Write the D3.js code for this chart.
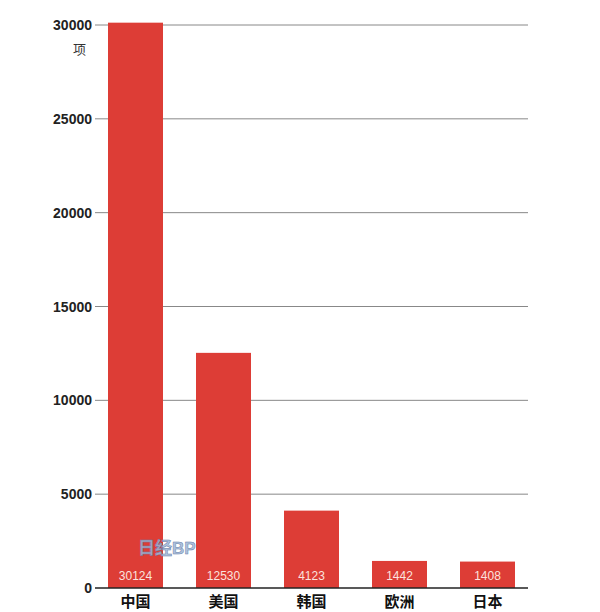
<!DOCTYPE html>
<html><head><meta charset="utf-8">
<script src="https://cdn.jsdelivr.net/npm/d3@7"></script>
<style>body{margin:0;background:#fff;}</style>
</head><body>
<svg id="chart" width="600" height="612"></svg>
<script>
const categories = ['中国', '美国', '韩国', '欧洲', '日本'];
const values = [30124, 12530, 4123, 1442, 1408];
const yTicks = [0, 5000, 10000, 15000, 20000, 25000, 30000];

const svg = d3.select('#chart');
const font = '"Liberation Sans", "Noto Sans CJK SC", sans-serif';
const y = d3.scaleLinear().domain([0, 30000]).range([588, 25]);
const x = d3.scaleBand().domain(categories).range([108, 515]).paddingInner(0.375).paddingOuter(0);

// gridlines
svg.append('g').selectAll('line').data(yTicks.filter(d => d > 0)).join('line')
    .attr('x1', 95).attr('x2', 528)
    .attr('y1', d => y(d)).attr('y2', d => y(d))
    .attr('stroke', '#888').attr('stroke-width', 1);

svg.append('g').selectAll('text').data(yTicks).join('text')
    .attr('x', 92).attr('y', d => y(d) + 5)
    .attr('text-anchor', 'end')
    .attr('font-family', font).attr('font-weight', 'bold').attr('font-size', 14)
    .attr('fill', '#222')
    .text(d => d);

svg.append('text').attr('x', 86).attr('y', y(30000) + 29)
    .attr('text-anchor', 'end').attr('font-family', font).attr('font-size', 13)
    .attr('fill', '#333').text('项');

svg.append('g').selectAll('rect').data(values).join('rect')
    .attr('x', (d, i) => x(categories[i]))
    .attr('width', x.bandwidth())
    .attr('y', d => y(d))
    .attr('height', d => y(0) - y(d))
    .attr('fill', '#dd3d36');

svg.append('g').selectAll('text').data(values).join('text')
    .attr('x', (d, i) => x(categories[i]) + x.bandwidth() / 2)
    .attr('y', y(0) - 8)
    .attr('text-anchor', 'middle')
    .attr('font-family', font).attr('font-size', 12)
    .attr('fill', '#fbe3df')
    .text(d => d);

svg.append('line').attr('x1', 95).attr('x2', 528)
    .attr('y1', y(0)).attr('y2', y(0))
    .attr('stroke', '#222').attr('stroke-width', 1.5);

svg.append('g').selectAll('text').data(categories).join('text')
    .attr('x', d => x(d) + x.bandwidth() / 2)
    .attr('y', 607)
    .attr('text-anchor', 'middle')
    .attr('font-family', font).attr('font-weight', 'bold').attr('font-size', 15)
    .attr('fill', '#111')
    .text(d => d);

// watermark
svg.append('text').attr('x', 138).attr('y', 554)
    .attr('font-family', font).attr('font-size', 17).attr('font-weight', 'bold')
    .attr('fill', '#9fb8d8').attr('fill-opacity', 0.85)
    .attr('stroke', '#6a7fa8').attr('stroke-width', 0.5)
    .text('日经BP');
</script>
</body></html>
